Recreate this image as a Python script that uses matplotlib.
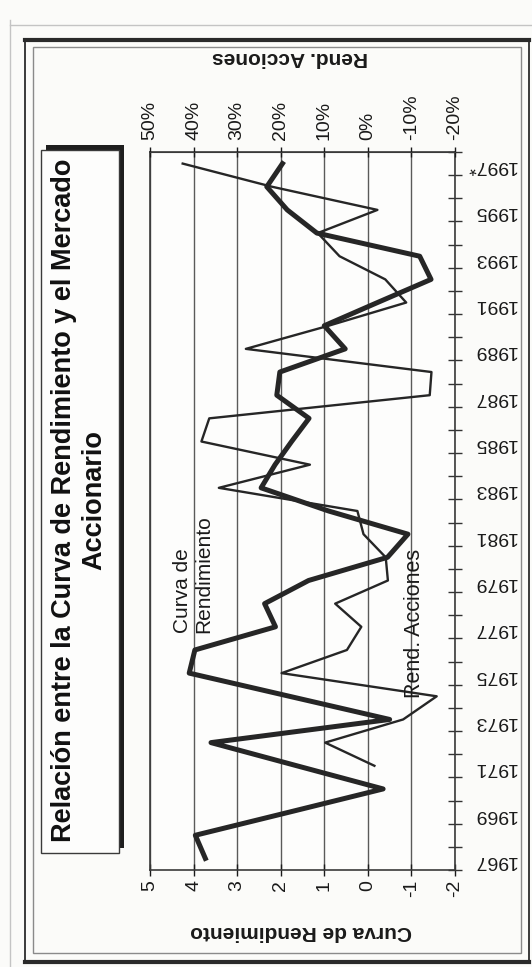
import matplotlib
matplotlib.use("Agg")
import matplotlib.pyplot as plt
from matplotlib.patches import Rectangle
from matplotlib.lines import Line2D
import numpy as np

plt.rcParams['font.family'] = ['Liberation Sans', 'DejaVu Sans']

# Yield-curve spread (left scale) and annual stock returns (right scale, %)
years = list(range(1967, 1998))
curva = [3.73, 3.96, 1.80, -0.35, 1.63, 3.60, -0.50, 1.80, 4.10, 3.97,
         2.12, 2.37, 1.36, -0.45, -0.92, 0.90, 2.45, 2.13, 1.75, 1.35,
         2.09, 2.02, 0.52, 1.00, -0.22, -1.45, -1.19, 1.17, 1.85, 2.32, 1.96]

acc_years = list(range(1971, 1998))
acciones = [-1.5, 9.8, -8.1, -15.8, 19.8, 4.8, 1.5, 7.5, -4.6, -4.1,
            1.0, 2.4, 34.2, 13.3, 38.2, 36.4, -14.2, -14.6, 28.0, 9.0,
            -8.8, -4.0, 6.5, 11.5, -2.2, 22.0, 42.5]

curva_ticks = [5, 4, 3, 2, 1, 0, -1, -2]
acc_ticks = [50, 40, 30, 20, 10, 0, -10, -20]
year_labels = [str(y) for y in years[::2]]
year_labels[-1] = '1997*'

W, H = 532, 967
fig = plt.figure(figsize=(W / 100, H / 100), dpi=100)
fig.patch.set_facecolor('#fbfbf9')


def fx(px):
    return px / W


def fy(py):
    return 1 - py / H


def rect_px(x0, y0, x1, y1, **kw):
    return Rectangle((x0 / W, 1 - y1 / H), (x1 - x0) / W, (y1 - y0) / H,
                     transform=fig.transFigure, **kw)


def hline_px(x0, x1, y, **kw):
    fig.add_artist(Line2D([fx(x0), fx(x1)], [fy(y), fy(y)],
                          transform=fig.transFigure, **kw))


def vline_px(x, y0, y1, **kw):
    fig.add_artist(Line2D([fx(x), fx(x)], [fy(y0), fy(y1)],
                          transform=fig.transFigure, **kw))


# page frame
vline_px(10, 20, 967, color='#c4c4c4', lw=1)
hline_px(10, 532, 25, color='#c4c4c4', lw=1)
fig.add_artist(rect_px(25, 40, 529, 962, fill=False, ec='#3a3a3a', lw=1.4))
hline_px(25, 529, 40, color='#2a2a2a', lw=3)
hline_px(25, 529, 962, color='#2a2a2a', lw=3)
fig.add_artist(rect_px(33, 47, 521, 953, fill=False, ec='#8a8a8a', lw=1))

ink = '#262626'

# plot area
L, R, T, B = 150, 455, 152, 870
ax = fig.add_axes([fx(L), fy(B), fx(R) - fx(L), fy(T) - fy(B)])
ax.set_facecolor('#fdfdfc')
ax.plot(curva, years, color=ink, lw=3.6, zorder=3)
ax.set_xlim(5, -2)
ax.set_ylim(1966.5, 1997.5)
ax.set_xticks(curva_ticks)
ax.set_xticklabels([str(v) for v in curva_ticks])
ax.grid(axis='x', color='#5a5a5a', lw=1)
ax.tick_params(axis='x', direction='inout', length=8, width=1, pad=3,
               labelsize=14, labelrotation=90, colors='#1a1a1a')

ax.yaxis.tick_right()
ax.set_yticks(years[::2])
ax.set_yticklabels(year_labels)
ax.set_yticks(np.arange(1966.5, 1998, 1), minor=True)
ax.tick_params(axis='y', which='major', length=0, pad=44, labelsize=14,
               labelrotation=180, colors='#1a1a1a')
ax.tick_params(axis='y', which='minor', direction='inout', length=10,
               width=1, color='#333333')
for lbl in ax.get_yticklabels():
    lbl.set_ha('right')
for s in ax.spines.values():
    s.set_color('#3a3a3a')
    s.set_linewidth(1.2)

ax2 = ax.twiny()
ax2.plot(acciones, acc_years, color=ink, lw=1.7, zorder=3)
ax2.set_xlim(50, -20)
ax2.set_xticks(acc_ticks)
ax2.set_xticklabels([f'{v}%' for v in acc_ticks])
ax2.tick_params(axis='x', direction='inout', length=7, width=1, pad=5,
                labelsize=14, labelrotation=90, colors='#1a1a1a')
for k in ('left', 'right', 'bottom'):
    ax2.spines[k].set_visible(False)
ax2.spines['top'].set_color('#3a3a3a')

# axis titles
fig.text(fx(301), fy(932), 'Curva de Rendimiento', rotation=180,
         ha='center', va='center', fontsize=15, fontweight='bold',
         color='#1a1a1a')
fig.text(fx(290), fy(57), 'Rend. Acciones', rotation=180,
         ha='center', va='center', fontsize=15, fontweight='bold',
         color='#1a1a1a')

# series labels
fig.text(fx(193), fy(633), 'Curva de\nRendimiento', rotation=90,
         ha='center', va='bottom', multialignment='left', fontsize=15,
         color='#1a1a1a')
fig.text(fx(414), fy(698), 'Rend. Acciones', rotation=90,
         ha='center', va='bottom', fontsize=15.5, color='#1a1a1a')

# title box with shadow
fig.add_artist(rect_px(46, 145, 124, 848, fc='#1e1e1e', ec='none'))
fig.add_artist(rect_px(41, 150, 119, 853, fc='#fdfdfc', ec='#3a3a3a', lw=1))
fig.text(fx(79), fy(500),
         'Relación entre la Curva de Rendimiento y el Mercado\nAccionario',
         rotation=90, ha='center', va='center', multialignment='center',
         fontsize=19.5, fontweight='bold', color='#111111')

fig.savefig('out.png', dpi=100, facecolor=fig.get_facecolor())
